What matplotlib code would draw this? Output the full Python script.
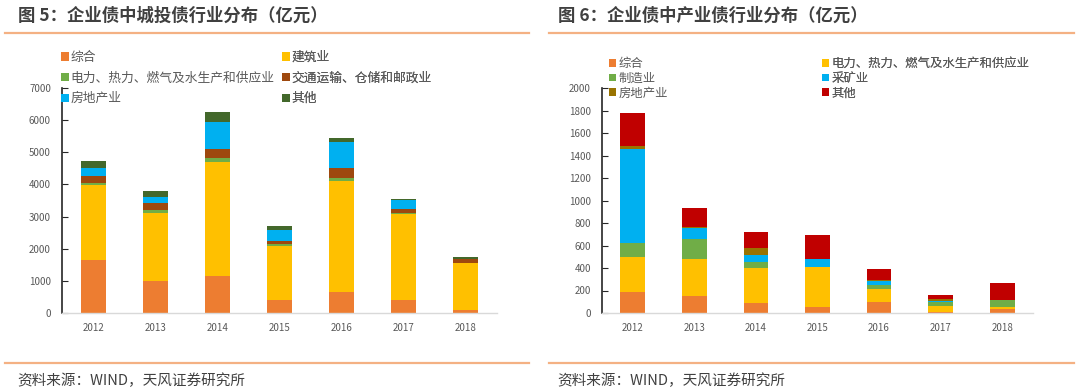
import matplotlib
matplotlib.use("Agg")
import matplotlib.pyplot as plt
from matplotlib.lines import Line2D
import numpy as np

plt.rcParams['font.family'] = ['Noto Sans CJK SC', 'DejaVu Sans']

years = ['2012', '2013', '2014', '2015', '2016', '2017', '2018']

# Left chart: 城投债
left_names = ['综合', '建筑业', '电力、热力、燃气及水生产和供应业', '交通运输、仓储和邮政业', '房地产业', '其他']
left_zonghe = [1650, 1000, 1150, 400, 650, 400, 80]
left_jianzhu = [2330, 2100, 3550, 1690, 3450, 2680, 1470]
left_dianli = [70, 100, 120, 50, 100, 30, 20]
left_jiaotong = [210, 230, 280, 100, 310, 125, 100]
left_fangdi = [260, 190, 840, 330, 810, 280, 20]
left_qita = [200, 190, 310, 140, 140, 40, 60]
left_colors = ['#ED7D31', '#FFC000', '#70AD47', '#9E480E', '#00B0F0', '#43682B']

# Right chart: 产业债
right_names = ['综合', '电力、热力、燃气及水生产和供应业', '制造业', '采矿业', '房地产业', '其他']
right_zonghe = [190, 150, 90, 50, 100, 12, 33]
right_dianli = [305, 326, 307, 355, 116, 50, 24]
right_zhizao = [124, 184, 60, 6, 35, 36, 56]
right_caikuang = [835, 97, 59, 65, 30, 6, 3]
right_fangdi = [32, 6, 59, 6, 9, 24, 3]
right_qita = [296, 169, 142, 207, 100, 35, 151]
right_colors = ['#ED7D31', '#FFC000', '#70AD47', '#00B0F0', '#997300', '#C00000']

W, H = 1080, 390
fig = plt.figure(figsize=(W / 100, H / 100), dpi=100)
TXT = '#595959'


def stacked(ax, series, colors, names):
    x = np.arange(len(years))
    bottom = np.zeros(len(years))
    handles = []
    for vals, c, n in zip(series, colors, names):
        b = ax.bar(x, vals, 0.4, bottom=bottom, color=c, label=n, zorder=2)
        handles.append(b)
        bottom += np.array(vals)
    ax.set_xticks(x)
    ax.set_xticklabels(years)
    ax.set_xlim(-0.5, len(years) - 0.5)
    for s in ['top', 'right']:
        ax.spines[s].set_visible(False)
    ax.spines['left'].set_color('#262626')
    ax.spines['left'].set_linewidth(1.2)
    ax.spines['bottom'].set_color('#D9D9D9')
    ax.spines['bottom'].set_linewidth(1.0)
    ax.tick_params(axis='y', direction='in', length=4, color='#262626', labelsize=7, labelcolor=TXT, pad=8)
    ax.tick_params(axis='x', length=0, labelsize=7, labelcolor=TXT, pad=7)
    return handles


def px_ax(x0, x1, ytop, ybot):
    return fig.add_axes([x0 / W, 1 - ybot / H, (x1 - x0) / W, (ybot - ytop) / H])


axL = px_ax(62, 497, 88, 313)
hL = stacked(axL, [left_zonghe, left_jianzhu, left_dianli, left_jiaotong, left_fangdi, left_qita],
             left_colors, left_names)
axL.set_ylim(0, 7000)
axL.set_yticks(range(0, 7001, 1000))

axR = px_ax(602, 1033, 88, 313)
hR = stacked(axR, [right_zonghe, right_dianli, right_zhizao, right_caikuang, right_fangdi, right_qita],
             right_colors, right_names)
axR.set_ylim(0, 2000)
axR.set_yticks(range(0, 2001, 200))


def legend_col(ax, handles, names, xpix, ytop, spacing, fs):
    lg = ax.legend(handles, names, loc='upper left',
                   bbox_to_anchor=(xpix / W, 1 - ytop / H), bbox_transform=fig.transFigure,
                   frameon=False, fontsize=fs, handlelength=0.6, handleheight=0.6,
                   handletextpad=0.15, labelspacing=spacing, borderpad=0, borderaxespad=0,
                   labelcolor=TXT)
    ax.add_artist(lg)
    return lg


legend_col(axL, [hL[0], hL[2], hL[4]], [left_names[0], left_names[2], left_names[4]], 61, 51, 0.6, 9.2)
legend_col(axL, [hL[1], hL[3], hL[5]], [left_names[1], left_names[3], left_names[5]], 282, 51, 0.6, 9.2)
legend_col(axR, [hR[0], hR[2], hR[4]], [right_names[0], right_names[2], right_names[4]], 609, 57, 0.15, 8.9)
legend_col(axR, [hR[1], hR[3], hR[5]], [right_names[1], right_names[3], right_names[5]], 822, 57, 0.15, 8.9)

# titles, rules, footers
ORANGE = '#F4B183'
for (x0, x1, title, tx) in [(5, 529, '图 5：企业债中城投债行业分布（亿元）', 18),
                            (549, 1074, '图 6：企业债中产业债行业分布（亿元）', 558)]:
    fig.text(tx / W, 1 - 16 / H, title, fontsize=12.5, fontweight='bold', color='#404040',
             va='center', ha='left')
    fig.add_artist(Line2D([x0 / W, x1 / W], [1 - 33 / H, 1 - 33 / H], color=ORANGE, lw=1.6))
    fig.add_artist(Line2D([x0 / W, x1 / W], [1 - 363 / H, 1 - 363 / H], color=ORANGE, lw=1.6))
    fig.text((tx - 1) / W, 1 - 381 / H, '资料来源：WIND，天风证券研究所', fontsize=10.5,
             color='#404040', va='center', ha='left')

fig.savefig('out.png', dpi=100)
